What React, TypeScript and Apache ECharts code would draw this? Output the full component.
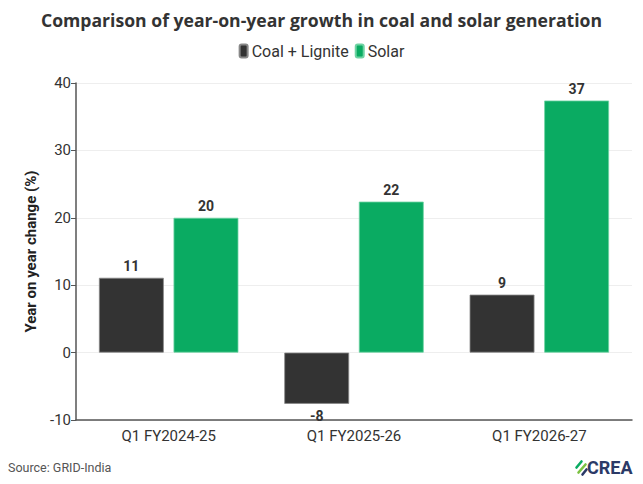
import React, { useEffect, useRef } from "react";
import * as echarts from "echarts";

const categories = ["Q1 FY2024-25", "Q1 FY2025-26", "Q1 FY2026-27"];
const coalLignite = [11.1, -7.6, 8.6];
const solar = [20.0, 22.4, 37.4];
const yTicks = { min: -10, max: 40, interval: 10 };

const FONT = "Roboto, 'Noto Sans', sans-serif";

export default function App() {
  const ref = useRef<HTMLDivElement>(null);
  useEffect(() => {
    document.body.style.margin = "0";
    const chart = echarts.init(ref.current!, null, { renderer: "svg" });
    const mkData = (arr: number[]) =>
      arr.map((v) => ({ value: v, label: { position: v < 0 ? "bottom" : "top" } }));
    const labelCfg = {
      show: true,
      fontFamily: FONT,
      fontSize: 14,
      fontWeight: "bold",
      color: "#333",
      distance: 5,
      formatter: (p: any) => Number(p.value).toFixed(0),
    };
    chart.setOption({
      animation: false,
      textStyle: { fontFamily: FONT },
      title: {
        text: "Comparison of year-on-year growth in coal and solar generation",
        left: "center",
        top: 6,
        textStyle: { fontFamily: "'Open Sans', sans-serif", fontSize: 17.6, fontWeight: "bold", color: "#333" },
      },
      legend: {
        top: 38,
        left: "center",
        icon: "roundRect",
        itemWidth: 8,
        itemHeight: 13,
        itemGap: 6,
        textStyle: { fontFamily: FONT, fontSize: 16, color: "#333", padding: [0, 0, 0, -1] },
        data: ["Coal + Lignite", "Solar"],
      },
      grid: { left: 76, right: 11, top: 83, bottom: 64, containLabel: false },
      xAxis: {
        type: "category",
        data: categories,
        axisLine: { onZero: false, lineStyle: { color: "#555", width: 1.5 } },
        axisTick: { alignWithLabel: true, length: 5, lineStyle: { color: "#555" } },
        axisLabel: { fontFamily: FONT, fontSize: 15, color: "#333", margin: 8 },
      },
      yAxis: {
        type: "value",
        min: yTicks.min,
        max: yTicks.max,
        interval: yTicks.interval,
        name: "Year on year change (%)",
        nameLocation: "middle",
        nameGap: 38,
        nameTextStyle: { fontFamily: FONT, fontSize: 15, fontWeight: "bold", color: "#222" },
        axisLine: { show: true, lineStyle: { color: "#555", width: 1.5 } },
        axisTick: { show: true, length: 5, lineStyle: { color: "#555" } },
        axisLabel: { fontFamily: FONT, fontSize: 15, color: "#333", margin: 5 },
        splitLine: { lineStyle: { color: "#eeeeee" } },
      },
      series: [
        {
          name: "Coal + Lignite",
          type: "bar",
          data: mkData(coalLignite),
          barWidth: "35%",
          barGap: "15%",
          itemStyle: { color: "#333333", borderColor: "#888", borderWidth: 0.8 },
          label: labelCfg,
        },
        {
          name: "Solar",
          type: "bar",
          data: mkData(solar),
          barWidth: "35%",
          barGap: "15%",
          itemStyle: { color: "#0aab62", borderColor: "#6fd3a3", borderWidth: 0.8 },
          label: labelCfg,
        },
      ],
      graphic: [
        {
          type: "text",
          left: 8,
          top: 461,
          style: { text: "Source: GRID-India", fontFamily: FONT, fontSize: 12.5, fill: "#555" },
        },
        {
          type: "group",
          left: 574,
          top: 459,
          children: [
            { type: "line", shape: { x1: 1, y1: 8, x2: 6, y2: 2 }, style: { stroke: "#0aab62", lineWidth: 2.6, lineCap: "round" } },
            { type: "line", shape: { x1: 3, y1: 13, x2: 10, y2: 5 }, style: { stroke: "#7cc242", lineWidth: 2.6, lineCap: "round" } },
            { type: "line", shape: { x1: 7, y1: 15, x2: 11, y2: 10 }, style: { stroke: "#2b3a67", lineWidth: 2.6, lineCap: "round" } },
          ],
        },
        {
          type: "text",
          left: 587,
          top: 458,
          style: { text: "CREA", fontFamily: FONT, fontSize: 18, fontWeight: "bold", fill: "#2b3a67" },
        },
      ],
    });
    return () => chart.dispose();
  }, []);
  return <div ref={ref} style={{ width: 643, height: 484 }} />;
}
